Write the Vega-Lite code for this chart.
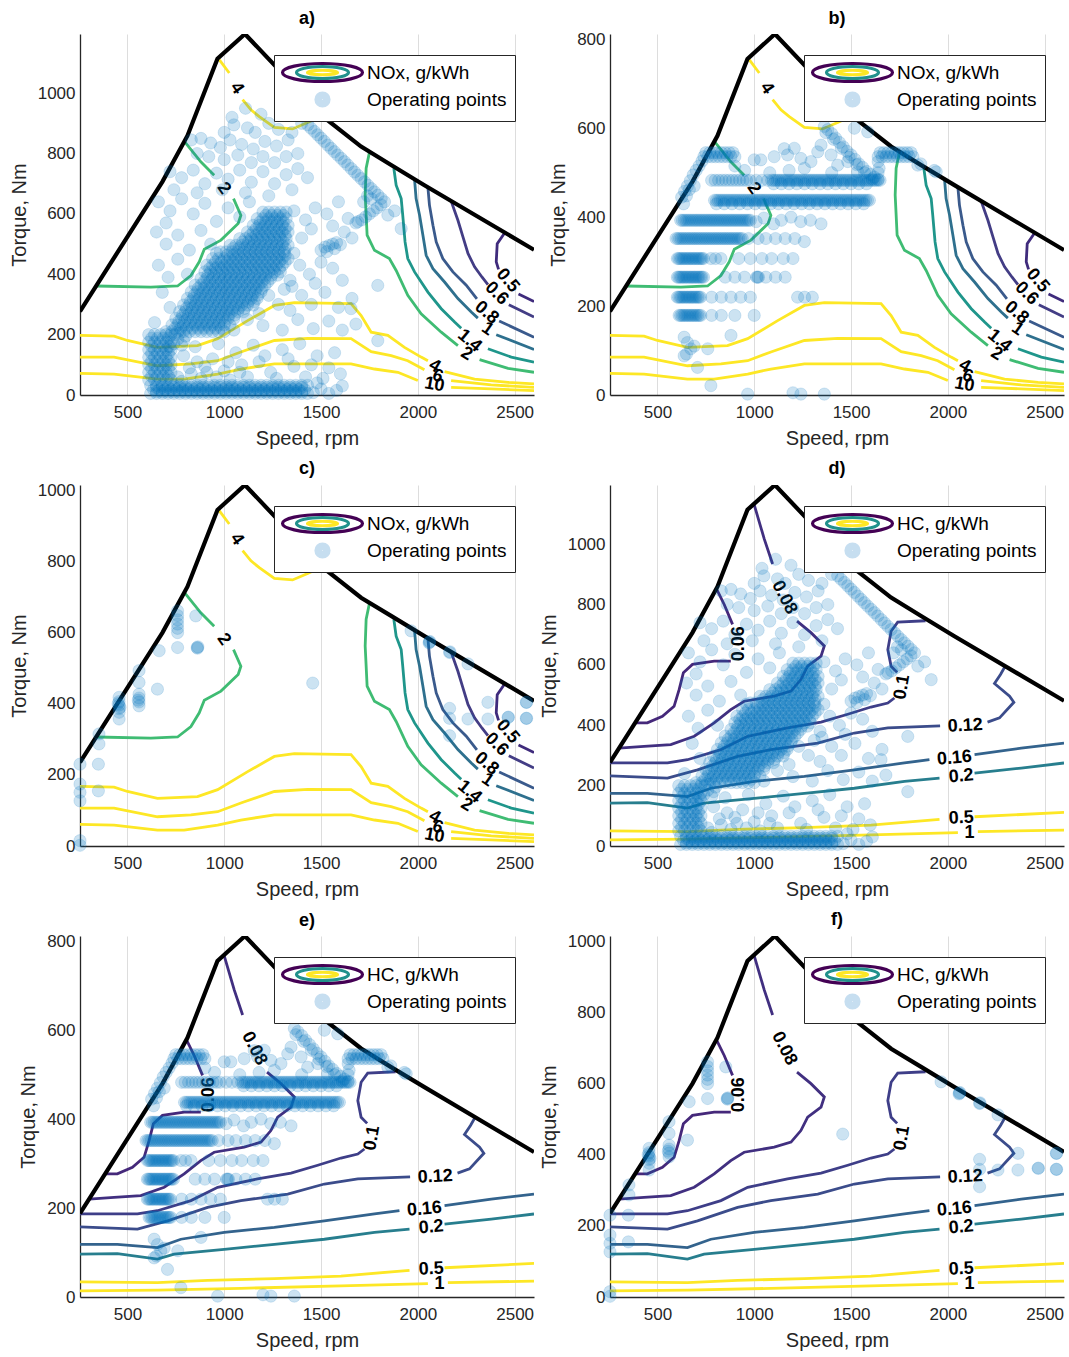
{
"$schema":"https://vega.github.io/schema/vega-lite/v6.json",
"background":"white",
"padding":{"left":9,"top":10,"right":5,"bottom":5},
"config":{"font":"Liberation Sans","view":{"stroke":null},
"axis":{"labelFontSize":17,"titleFontSize":20,"titleFontWeight":"normal","labelColor":"#262626","titleColor":"#262626","domainColor":"#262626","domainWidth":1.3,"gridColor":"#dddddd","gridWidth":1,"ticks":false,"tickSize":0,"grid":true,"titlePadding":8,"format":"d"},
"axisX":{"labelPadding":9,"titlePadding":8},"axisY":{"labelPadding":5},
"legend":{"orient":"none","legendX":194,"legendY":21,"padding":8,"labelFontSize":19,"labelColor":"black","symbolSize":100,"labelFont":"Liberation Sans","symbolOffset":31,"symbolStrokeWidth":3.2},
"title":{"fontSize":18,"fontWeight":"bold","offset":7,"color":"black"}},
"datasets":{
"legN":[{"item":"NOx, g/kWh"},{"item":"Operating points"}],
"legH":[{"item":"HC, g/kWh"},{"item":"Operating points"}],
"bndA":[{"s":255,"t":277},{"s":681,"t":707},{"s":810,"t":859},{"s":965,"t":1114},{"s":1107,"t":1196},{"s":1517,"t":919},{"s":1707,"t":823},{"s":1862,"t":762},{"s":2034,"t":695},{"s":2600,"t":481}],
"bndB":[{"s":255,"t":188},{"s":681,"t":480},{"s":810,"t":583},{"s":965,"t":756},{"s":1107,"t":812},{"s":1517,"t":624},{"s":1707,"t":559},{"s":1862,"t":517},{"s":2034,"t":472},{"s":2600,"t":326}],
"bndC":[{"s":255,"t":235},{"s":681,"t":600},{"s":810,"t":729},{"s":965,"t":945},{"s":1107,"t":1015},{"s":1517,"t":780},{"s":1707,"t":698},{"s":1862,"t":647},{"s":2034,"t":590},{"s":2600,"t":408}],
"nox":[
{"k":"4","g":"4t1","s":974,"l":0.929},{"k":"4","g":"4t1","s":1026,"l":0.892},
{"k":"4","g":"4t2","s":1095,"l":0.818},{"k":"4","g":"4t2","s":1138,"l":0.79},{"k":"4","g":"4t2","s":1181,"l":0.771},{"k":"4","g":"4t2","s":1259,"l":0.741},{"k":"4","g":"4t2","s":1353,"l":0.737},{"k":"4","g":"4t2","s":1431,"l":0.755},{"k":"4","g":"4t2","s":1509,"l":0.774},
{"k":"2","g":"2u1","s":798,"l":0.7},{"k":"2","g":"2u1","s":879,"l":0.646},{"k":"2","g":"2u1","s":948,"l":0.609},
{"k":"2","g":"2u2","s":1048,"l":0.544},{"k":"2","g":"2u2","s":1086,"l":0.498},{"k":"2","g":"2u2","s":1072,"l":0.475},{"k":"2","g":"2u2","s":983,"l":0.429},{"k":"2","g":"2u2","s":897,"l":0.404},{"k":"2","g":"2u2","s":871,"l":0.369},{"k":"2","g":"2u2","s":828,"l":0.331},{"k":"2","g":"2u2","s":759,"l":0.302},{"k":"2","g":"2u2","s":621,"l":0.299},{"k":"2","g":"2u2","s":340,"l":0.302},
{"k":"2","g":"2r1","s":1750,"l":0.672},{"k":"2","g":"2r1","s":1733,"l":0.628},{"k":"2","g":"2r1","s":1728,"l":0.554},{"k":"2","g":"2r1","s":1738,"l":0.443},{"k":"2","g":"2r1","s":1776,"l":0.401},{"k":"2","g":"2r1","s":1853,"l":0.378},{"k":"2","g":"2r1","s":1888,"l":0.345},{"k":"2","g":"2r1","s":1948,"l":0.276},{"k":"2","g":"2r1","s":2017,"l":0.225},{"k":"2","g":"2r1","s":2121,"l":0.174},{"k":"2","g":"2r1","s":2207,"l":0.137},
{"k":"2","g":"2r2","s":2319,"l":0.098},{"k":"2","g":"2r2","s":2466,"l":0.074},{"k":"2","g":"2r2","s":2600,"l":0.063},
{"k":"1.4","g":"14a","s":1876,"l":0.628},{"k":"1.4","g":"14a","s":1888,"l":0.581},{"k":"1.4","g":"14a","s":1914,"l":0.544},{"k":"1.4","g":"14a","s":1922,"l":0.498},{"k":"1.4","g":"14a","s":1934,"l":0.424},{"k":"1.4","g":"14a","s":1948,"l":0.378},{"k":"1.4","g":"14a","s":1983,"l":0.341},{"k":"1.4","g":"14a","s":2052,"l":0.285},{"k":"1.4","g":"14a","s":2121,"l":0.239},{"k":"1.4","g":"14a","s":2190,"l":0.202},{"k":"1.4","g":"14a","s":2224,"l":0.185},
{"k":"1.4","g":"14b","s":2362,"l":0.128},{"k":"1.4","g":"14b","s":2483,"l":0.105},{"k":"1.4","g":"14b","s":2600,"l":0.091},
{"k":"1","g":"1a","s":1983,"l":0.597},{"k":"1","g":"1a","s":1991,"l":0.544},{"k":"1","g":"1a","s":2009,"l":0.498},{"k":"1","g":"1a","s":2026,"l":0.443},{"k":"1","g":"1a","s":2043,"l":0.387},{"k":"1","g":"1a","s":2078,"l":0.35},{"k":"1","g":"1a","s":2138,"l":0.313},{"k":"1","g":"1a","s":2207,"l":0.267},{"k":"1","g":"1a","s":2276,"l":0.23},{"k":"1","g":"1a","s":2310,"l":0.213},
{"k":"1","g":"1b","s":2405,"l":0.167},{"k":"1","g":"1b","s":2600,"l":0.126},
{"k":"0.8","g":"08a","s":2052,"l":0.575},{"k":"0.8","g":"08a","s":2060,"l":0.526},{"k":"0.8","g":"08a","s":2078,"l":0.47},{"k":"0.8","g":"08a","s":2095,"l":0.424},{"k":"0.8","g":"08a","s":2129,"l":0.378},{"k":"0.8","g":"08a","s":2181,"l":0.341},{"k":"0.8","g":"08a","s":2250,"l":0.304},{"k":"0.8","g":"08a","s":2305,"l":0.266},
{"k":"0.8","g":"08b","s":2420,"l":0.205},{"k":"0.8","g":"08b","s":2600,"l":0.16},
{"k":"0.6","g":"06a","s":2172,"l":0.537},{"k":"0.6","g":"06a","s":2207,"l":0.484},{"k":"0.6","g":"06a","s":2233,"l":0.438},{"k":"0.6","g":"06a","s":2259,"l":0.392},{"k":"0.6","g":"06a","s":2293,"l":0.355},{"k":"0.6","g":"06a","s":2331,"l":0.327},{"k":"0.6","g":"06a","s":2362,"l":0.306},
{"k":"0.6","g":"06b","s":2470,"l":0.25},{"k":"0.6","g":"06b","s":2600,"l":0.216},
{"k":"0.5","g":"05a","s":2450,"l":0.45},{"k":"0.5","g":"05a","s":2410,"l":0.419},{"k":"0.5","g":"05a","s":2405,"l":0.369},{"k":"0.5","g":"05a","s":2417,"l":0.348},
{"k":"0.5","g":"05b","s":2520,"l":0.28},{"k":"0.5","g":"05b","s":2600,"l":0.259},
{"k":"4","g":"4b1","s":255,"l":0.165},{"k":"4","g":"4b1","s":431,"l":0.163},{"k":"4","g":"4b1","s":500,"l":0.151},{"k":"4","g":"4b1","s":655,"l":0.132},{"k":"4","g":"4b1","s":862,"l":0.137},{"k":"4","g":"4b1","s":966,"l":0.156},{"k":"4","g":"4b1","s":1121,"l":0.206},{"k":"4","g":"4b1","s":1259,"l":0.248},{"k":"4","g":"4b1","s":1362,"l":0.256},{"k":"4","g":"4b1","s":1655,"l":0.253},{"k":"4","g":"4b1","s":1707,"l":0.22},{"k":"4","g":"4b1","s":1759,"l":0.174},{"k":"4","g":"4b1","s":1845,"l":0.165},{"k":"4","g":"4b1","s":1931,"l":0.132},{"k":"4","g":"4b1","s":2017,"l":0.105},{"k":"4","g":"4b1","s":2052,"l":0.095},
{"k":"4","g":"4b2","s":2138,"l":0.065},{"k":"4","g":"4b2","s":2293,"l":0.044},{"k":"4","g":"4b2","s":2466,"l":0.035},{"k":"4","g":"4b2","s":2600,"l":0.031},
{"k":"6","g":"6a","s":255,"l":0.105},{"k":"6","g":"6a","s":431,"l":0.105},{"k":"6","g":"6a","s":655,"l":0.081},{"k":"6","g":"6a","s":828,"l":0.086},{"k":"6","g":"6a","s":966,"l":0.095},{"k":"6","g":"6a","s":1086,"l":0.119},{"k":"6","g":"6a","s":1259,"l":0.151},{"k":"6","g":"6a","s":1431,"l":0.157},{"k":"6","g":"6a","s":1655,"l":0.156},{"k":"6","g":"6a","s":1759,"l":0.12},{"k":"6","g":"6a","s":1862,"l":0.109},{"k":"6","g":"6a","s":1948,"l":0.095},{"k":"6","g":"6a","s":2034,"l":0.07},
{"k":"6","g":"6b","s":2172,"l":0.04},{"k":"6","g":"6b","s":2379,"l":0.028},{"k":"6","g":"6b","s":2600,"l":0.021},
{"k":"10","g":"10a","s":255,"l":0.06},{"k":"10","g":"10a","s":431,"l":0.058},{"k":"10","g":"10a","s":655,"l":0.044},{"k":"10","g":"10a","s":793,"l":0.044},{"k":"10","g":"10a","s":966,"l":0.058},{"k":"10","g":"10a","s":1086,"l":0.072},{"k":"10","g":"10a","s":1259,"l":0.086},{"k":"10","g":"10a","s":1655,"l":0.086},{"k":"10","g":"10a","s":1776,"l":0.072},{"k":"10","g":"10a","s":1897,"l":0.063},{"k":"10","g":"10a","s":2000,"l":0.04},
{"k":"10","g":"10b","s":2172,"l":0.021},{"k":"10","g":"10b","s":2379,"l":0.017},{"k":"10","g":"10b","s":2600,"l":0.012}
],
"noxLab":[{"s":1064,"l":0.85,"txt":"4","rot":55},{"s":997,"l":0.572,"txt":"2","rot":55},{"s":2464,"l":0.317,"txt":"0.5","rot":50},{"s":2407,"l":0.281,"txt":"0.6","rot":45},{"s":2355,"l":0.228,"txt":"0.8","rot":40},{"s":2360,"l":0.183,"txt":"1","rot":35},{"s":2267,"l":0.15,"txt":"1.4","rot":40},{"s":2252,"l":0.114,"txt":"2","rot":30},{"s":2086,"l":0.08,"txt":"4","rot":30},{"s":2103,"l":0.052,"txt":"6","rot":20},{"s":2086,"l":0.028,"txt":"10","rot":10}],
"hc":[
{"k":"0.06","g":"a1","s":805,"l":0.712},{"k":"0.06","g":"a1","s":845,"l":0.669},{"k":"0.06","g":"a1","s":888,"l":0.614},
{"k":"0.06","g":"a2","s":879,"l":0.512},{"k":"0.06","g":"a2","s":793,"l":0.512},{"k":"0.06","g":"a2","s":681,"l":0.503},{"k":"0.06","g":"a2","s":634,"l":0.48},{"k":"0.06","g":"a2","s":612,"l":0.433},{"k":"0.06","g":"a2","s":586,"l":0.387},{"k":"0.06","g":"a2","s":526,"l":0.359},{"k":"0.06","g":"a2","s":448,"l":0.341},{"k":"0.06","g":"a2","s":385,"l":0.341},
{"k":"0.08","g":"b1","s":1000,"l":0.945},{"k":"0.08","g":"b1","s":1052,"l":0.85},{"k":"0.08","g":"b1","s":1095,"l":0.781},
{"k":"0.08","g":"b2","s":1221,"l":0.623},{"k":"0.08","g":"b2","s":1293,"l":0.591},{"k":"0.08","g":"b2","s":1362,"l":0.554},{"k":"0.08","g":"b2","s":1345,"l":0.526},{"k":"0.08","g":"b2","s":1276,"l":0.498},{"k":"0.08","g":"b2","s":1241,"l":0.461},{"k":"0.08","g":"b2","s":1190,"l":0.429},{"k":"0.08","g":"b2","s":1103,"l":0.415},{"k":"0.08","g":"b2","s":948,"l":0.401},{"k":"0.08","g":"b2","s":879,"l":0.378},{"k":"0.08","g":"b2","s":793,"l":0.341},{"k":"0.08","g":"b2","s":690,"l":0.304},{"k":"0.08","g":"b2","s":569,"l":0.281},{"k":"0.08","g":"b2","s":431,"l":0.276},{"k":"0.08","g":"b2","s":302,"l":0.271},
{"k":"0.1","g":"c1","s":1885,"l":0.624},{"k":"0.1","g":"c1","s":1741,"l":0.62},{"k":"0.1","g":"c1","s":1707,"l":0.595},{"k":"0.1","g":"c1","s":1690,"l":0.544},{"k":"0.1","g":"c1","s":1707,"l":0.498},{"k":"0.1","g":"c1","s":1738,"l":0.481},
{"k":"0.1","g":"c2","s":1724,"l":0.41},{"k":"0.1","g":"c2","s":1690,"l":0.396},{"k":"0.1","g":"c2","s":1603,"l":0.385},{"k":"0.1","g":"c2","s":1483,"l":0.365},{"k":"0.1","g":"c2","s":1345,"l":0.343},{"k":"0.1","g":"c2","s":1172,"l":0.327},{"k":"0.1","g":"c2","s":966,"l":0.304},{"k":"0.1","g":"c2","s":828,"l":0.267},{"k":"0.1","g":"c2","s":655,"l":0.239},{"k":"0.1","g":"c2","s":552,"l":0.23},{"k":"0.1","g":"c2","s":255,"l":0.23},
{"k":"0.12","g":"d1","s":255,"l":0.194},{"k":"0.12","g":"d1","s":552,"l":0.188},{"k":"0.12","g":"d1","s":707,"l":0.211},{"k":"0.12","g":"d1","s":914,"l":0.248},{"k":"0.12","g":"d1","s":1086,"l":0.267},{"k":"0.12","g":"d1","s":1328,"l":0.285},{"k":"0.12","g":"d1","s":1517,"l":0.313},{"k":"0.12","g":"d1","s":1690,"l":0.327},{"k":"0.12","g":"d1","s":1960,"l":0.333},
{"k":"0.12","g":"d2","s":2205,"l":0.343},{"k":"0.12","g":"d2","s":2267,"l":0.355},{"k":"0.12","g":"d2","s":2341,"l":0.398},{"k":"0.12","g":"d2","s":2319,"l":0.415},{"k":"0.12","g":"d2","s":2241,"l":0.45},{"k":"0.12","g":"d2","s":2272,"l":0.475},{"k":"0.12","g":"d2","s":2295,"l":0.497},
{"k":"0.16","g":"e1","s":255,"l":0.146},{"k":"0.16","g":"e1","s":448,"l":0.146},{"k":"0.16","g":"e1","s":655,"l":0.137},{"k":"0.16","g":"e1","s":776,"l":0.16},{"k":"0.16","g":"e1","s":1000,"l":0.179},{"k":"0.16","g":"e1","s":1259,"l":0.193},{"k":"0.16","g":"e1","s":1517,"l":0.211},{"k":"0.16","g":"e1","s":1776,"l":0.23},{"k":"0.16","g":"e1","s":1905,"l":0.239},
{"k":"0.16","g":"e2","s":2138,"l":0.253},{"k":"0.16","g":"e2","s":2379,"l":0.271},{"k":"0.16","g":"e2","s":2600,"l":0.285},
{"k":"0.2","g":"f1","s":255,"l":0.119},{"k":"0.2","g":"f1","s":448,"l":0.12},{"k":"0.2","g":"f1","s":655,"l":0.105},{"k":"0.2","g":"f1","s":741,"l":0.119},{"k":"0.2","g":"f1","s":1000,"l":0.132},{"k":"0.2","g":"f1","s":1259,"l":0.146},{"k":"0.2","g":"f1","s":1517,"l":0.16},{"k":"0.2","g":"f1","s":1776,"l":0.179},{"k":"0.2","g":"f1","s":1957,"l":0.188},
{"k":"0.2","g":"f2","s":2138,"l":0.202},{"k":"0.2","g":"f2","s":2379,"l":0.216},{"k":"0.2","g":"f2","s":2600,"l":0.23},
{"k":"0.5","g":"g1","s":255,"l":0.042},{"k":"0.5","g":"g1","s":655,"l":0.04},{"k":"0.5","g":"g1","s":914,"l":0.046},{"k":"0.5","g":"g1","s":1259,"l":0.051},{"k":"0.5","g":"g1","s":1603,"l":0.058},{"k":"0.5","g":"g1","s":1957,"l":0.074},
{"k":"0.5","g":"g2","s":2138,"l":0.081},{"k":"0.5","g":"g2","s":2600,"l":0.093},
{"k":"1","g":"h1","s":255,"l":0.017},{"k":"1","g":"h1","s":655,"l":0.019},{"k":"1","g":"h1","s":1086,"l":0.024},{"k":"1","g":"h1","s":1603,"l":0.031},{"k":"1","g":"h1","s":2052,"l":0.037},
{"k":"1","g":"h2","s":2155,"l":0.04},{"k":"1","g":"h2","s":2600,"l":0.044}
],
"hcLab":[{"s":922,"l":0.56,"txt":"0.06","rot":270},{"s":1155,"l":0.688,"txt":"0.08","rot":63},{"s":1764,"l":0.44,"txt":"0.1","rot":280},{"s":2090,"l":0.333,"txt":"0.12","rot":357},{"s":2034,"l":0.243,"txt":"0.16","rot":355},{"s":2069,"l":0.193,"txt":"0.2","rot":355},{"s":2069,"l":0.077,"txt":"0.5","rot":357},{"s":2112,"l":0.037,"txt":"1","rot":0}],
"ptsA":[
{"s":620,"t":5},{"s":650,"t":5},{"s":680,"t":5},{"s":710,"t":5},{"s":740,"t":5},{"s":770,"t":5},{"s":800,"t":5},{"s":830,"t":5},{"s":860,"t":5},{"s":890,"t":5},{"s":920,"t":5},{"s":950,"t":5},{"s":980,"t":5},{"s":1010,"t":5},{"s":1040,"t":5},{"s":1070,"t":5},{"s":1100,"t":5},{"s":1130,"t":5},{"s":1160,"t":5},{"s":1190,"t":5},{"s":1220,"t":5},{"s":1250,"t":5},{"s":1280,"t":5},{"s":1310,"t":5},{"s":1340,"t":5},{"s":1370,"t":5},{"s":1400,"t":5},{"s":1430,"t":5},
{"s":650,"t":11},{"s":680,"t":11},{"s":710,"t":11},{"s":740,"t":11},{"s":770,"t":11},{"s":800,"t":11},{"s":830,"t":11},{"s":860,"t":11},{"s":890,"t":11},{"s":920,"t":11},{"s":950,"t":11},{"s":980,"t":11},{"s":1010,"t":11},{"s":1040,"t":11},{"s":1070,"t":11},{"s":1100,"t":11},{"s":1130,"t":11},{"s":1160,"t":11},{"s":1190,"t":11},{"s":1220,"t":11},{"s":1250,"t":11},{"s":1280,"t":11},{"s":1310,"t":11},{"s":1340,"t":11},{"s":1370,"t":11},{"s":1400,"t":11},
{"s":635,"t":18},{"s":665,"t":18},{"s":695,"t":18},{"s":725,"t":18},{"s":755,"t":18},{"s":785,"t":18},{"s":815,"t":18},{"s":845,"t":18},{"s":875,"t":18},{"s":905,"t":18},{"s":935,"t":18},{"s":965,"t":18},{"s":995,"t":18},{"s":1025,"t":18},{"s":1055,"t":18},{"s":1085,"t":18},{"s":1115,"t":18},{"s":1145,"t":18},{"s":1175,"t":18},{"s":1205,"t":18},{"s":1235,"t":18},{"s":1265,"t":18},{"s":1295,"t":18},{"s":1325,"t":18},{"s":1355,"t":18},{"s":1385,"t":18},{"s":1415,"t":18},
{"s":650,"t":25},{"s":680,"t":25},{"s":710,"t":25},{"s":740,"t":25},{"s":770,"t":25},{"s":800,"t":25},{"s":830,"t":25},{"s":860,"t":25},{"s":890,"t":25},{"s":920,"t":25},{"s":950,"t":25},{"s":980,"t":25},{"s":1010,"t":25},{"s":1040,"t":25},{"s":1070,"t":25},{"s":1100,"t":25},{"s":1130,"t":25},{"s":1160,"t":25},{"s":1190,"t":25},{"s":1220,"t":25},{"s":1250,"t":25},{"s":1280,"t":25},{"s":1310,"t":25},{"s":1340,"t":25},{"s":1370,"t":25},{"s":1400,"t":25},
{"s":620,"t":32},{"s":650,"t":32},{"s":680,"t":32},{"s":710,"t":32},{"s":740,"t":32},{"s":770,"t":32},{"s":800,"t":32},{"s":830,"t":32},{"s":860,"t":32},{"s":890,"t":32},{"s":920,"t":32},{"s":950,"t":32},{"s":980,"t":32},{"s":1010,"t":32},{"s":1040,"t":32},{"s":1070,"t":32},{"s":1100,"t":32},{"s":1130,"t":32},{"s":1160,"t":32},{"s":1190,"t":32},{"s":1220,"t":32},{"s":1250,"t":32},{"s":1280,"t":32},{"s":1310,"t":32},{"s":1340,"t":32},{"s":1370,"t":32},{"s":1400,"t":32},{"s":1430,"t":32},
{"s":1460,"t":8},{"s":1500,"t":20},{"s":1540,"t":5},{"s":1580,"t":15},{"s":1610,"t":30},{"s":1480,"t":40},
{"s":610,"t":50},{"s":640,"t":50},{"s":670,"t":50},{"s":700,"t":50},{"s":725,"t":50},
{"s":610,"t":75},{"s":640,"t":75},{"s":670,"t":75},{"s":700,"t":75},{"s":725,"t":75},
{"s":610,"t":100},{"s":640,"t":100},{"s":670,"t":100},{"s":700,"t":100},{"s":725,"t":100},
{"s":610,"t":125},{"s":640,"t":125},{"s":670,"t":125},{"s":700,"t":125},{"s":725,"t":125},
{"s":610,"t":150},{"s":640,"t":150},{"s":670,"t":150},{"s":700,"t":150},{"s":725,"t":150},
{"s":610,"t":175},{"s":640,"t":175},{"s":670,"t":175},{"s":700,"t":175},{"s":725,"t":175},
{"s":610,"t":200},{"s":640,"t":200},{"s":670,"t":200},{"s":700,"t":200},{"s":725,"t":200},
{"s":625,"t":62},{"s":655,"t":62},{"s":685,"t":62},{"s":712,"t":62},
{"s":625,"t":88},{"s":655,"t":88},{"s":685,"t":88},{"s":712,"t":88},
{"s":625,"t":112},{"s":655,"t":112},{"s":685,"t":112},{"s":712,"t":112},
{"s":625,"t":138},{"s":655,"t":138},{"s":685,"t":138},{"s":712,"t":138},
{"s":625,"t":162},{"s":655,"t":162},{"s":685,"t":162},{"s":712,"t":162},
{"s":625,"t":188},{"s":655,"t":188},{"s":685,"t":188},{"s":712,"t":188},
{"s":740,"t":170},{"s":760,"t":185},{"s":780,"t":165},{"s":800,"t":195},{"s":745,"t":200},{"s":770,"t":205},{"s":720,"t":160},{"s":790,"t":180},
{"s":760,"t":60},{"s":820,"t":90},{"s":880,"t":55},{"s":940,"t":120},{"s":1000,"t":80},{"s":1060,"t":140},{"s":1120,"t":60},{"s":1180,"t":110},{"s":1240,"t":75},{"s":1300,"t":150},{"s":1360,"t":95},{"s":1420,"t":60},{"s":1480,"t":130},{"s":1540,"t":90},{"s":1600,"t":70},{"s":790,"t":130},{"s":850,"t":160},{"s":910,"t":75},{"s":970,"t":170},{"s":1030,"t":50},{"s":1090,"t":100},{"s":1150,"t":165},{"s":1210,"t":130},{"s":1270,"t":55},{"s":1330,"t":120},{"s":1390,"t":170},{"s":1450,"t":100},{"s":1510,"t":55},{"s":1570,"t":140},{"s":860,"t":110},{"s":780,"t":45},{"s":830,"t":70},{"s":900,"t":95},{"s":960,"t":60},{"s":1020,"t":110},{"s":1080,"t":75},
{"s":700,"t":210},{"s":730,"t":210},{"s":760,"t":210},{"s":790,"t":210},{"s":820,"t":210},{"s":850,"t":210},{"s":880,"t":210},{"s":910,"t":210},{"s":940,"t":210},{"s":970,"t":210},{"s":1000,"t":210},
{"s":730,"t":232},{"s":760,"t":232},{"s":790,"t":232},{"s":820,"t":232},{"s":850,"t":232},{"s":880,"t":232},{"s":910,"t":232},{"s":940,"t":232},{"s":970,"t":232},{"s":1000,"t":232},{"s":1030,"t":232},
{"s":750,"t":254},{"s":780,"t":254},{"s":810,"t":254},{"s":840,"t":254},{"s":870,"t":254},{"s":900,"t":254},{"s":930,"t":254},{"s":960,"t":254},{"s":990,"t":254},{"s":1020,"t":254},{"s":1050,"t":254},
{"s":770,"t":276},{"s":800,"t":276},{"s":830,"t":276},{"s":860,"t":276},{"s":890,"t":276},{"s":920,"t":276},{"s":950,"t":276},{"s":980,"t":276},{"s":1010,"t":276},{"s":1040,"t":276},{"s":1070,"t":276},{"s":1100,"t":276},
{"s":790,"t":298},{"s":820,"t":298},{"s":850,"t":298},{"s":880,"t":298},{"s":910,"t":298},{"s":940,"t":298},{"s":970,"t":298},{"s":1000,"t":298},{"s":1030,"t":298},{"s":1060,"t":298},{"s":1090,"t":298},{"s":1120,"t":298},{"s":1150,"t":298},
{"s":810,"t":320},{"s":840,"t":320},{"s":870,"t":320},{"s":900,"t":320},{"s":930,"t":320},{"s":960,"t":320},{"s":990,"t":320},{"s":1020,"t":320},{"s":1050,"t":320},{"s":1080,"t":320},{"s":1110,"t":320},{"s":1140,"t":320},{"s":1170,"t":320},
{"s":830,"t":342},{"s":860,"t":342},{"s":890,"t":342},{"s":920,"t":342},{"s":950,"t":342},{"s":980,"t":342},{"s":1010,"t":342},{"s":1040,"t":342},{"s":1070,"t":342},{"s":1100,"t":342},{"s":1130,"t":342},{"s":1160,"t":342},{"s":1190,"t":342},
{"s":850,"t":364},{"s":880,"t":364},{"s":910,"t":364},{"s":940,"t":364},{"s":970,"t":364},{"s":1000,"t":364},{"s":1030,"t":364},{"s":1060,"t":364},{"s":1090,"t":364},{"s":1120,"t":364},{"s":1150,"t":364},{"s":1180,"t":364},{"s":1210,"t":364},
{"s":880,"t":386},{"s":910,"t":386},{"s":940,"t":386},{"s":970,"t":386},{"s":1000,"t":386},{"s":1030,"t":386},{"s":1060,"t":386},{"s":1090,"t":386},{"s":1120,"t":386},{"s":1150,"t":386},{"s":1180,"t":386},{"s":1210,"t":386},{"s":1240,"t":386},
{"s":900,"t":408},{"s":930,"t":408},{"s":960,"t":408},{"s":990,"t":408},{"s":1020,"t":408},{"s":1050,"t":408},{"s":1080,"t":408},{"s":1110,"t":408},{"s":1140,"t":408},{"s":1170,"t":408},{"s":1200,"t":408},{"s":1230,"t":408},{"s":1260,"t":408},{"s":1290,"t":408},
{"s":910,"t":430},{"s":940,"t":430},{"s":970,"t":430},{"s":1000,"t":430},{"s":1030,"t":430},{"s":1060,"t":430},{"s":1090,"t":430},{"s":1120,"t":430},{"s":1150,"t":430},{"s":1180,"t":430},{"s":1210,"t":430},{"s":1240,"t":430},{"s":1270,"t":430},{"s":1300,"t":430},
{"s":940,"t":452},{"s":970,"t":452},{"s":1000,"t":452},{"s":1030,"t":452},{"s":1060,"t":452},{"s":1090,"t":452},{"s":1120,"t":452},{"s":1150,"t":452},{"s":1180,"t":452},{"s":1210,"t":452},{"s":1240,"t":452},{"s":1270,"t":452},{"s":1300,"t":452},{"s":1330,"t":452},
{"s":980,"t":474},{"s":1010,"t":474},{"s":1040,"t":474},{"s":1070,"t":474},{"s":1100,"t":474},{"s":1130,"t":474},{"s":1160,"t":474},{"s":1190,"t":474},{"s":1220,"t":474},{"s":1250,"t":474},{"s":1280,"t":474},{"s":1310,"t":474},
{"s":1030,"t":496},{"s":1060,"t":496},{"s":1090,"t":496},{"s":1120,"t":496},{"s":1150,"t":496},{"s":1180,"t":496},{"s":1210,"t":496},{"s":1240,"t":496},{"s":1270,"t":496},{"s":1300,"t":496},{"s":1330,"t":496},
{"s":1080,"t":518},{"s":1110,"t":518},{"s":1140,"t":518},{"s":1170,"t":518},{"s":1200,"t":518},{"s":1230,"t":518},{"s":1260,"t":518},{"s":1290,"t":518},{"s":1320,"t":518},
{"s":1120,"t":540},{"s":1150,"t":540},{"s":1180,"t":540},{"s":1210,"t":540},{"s":1240,"t":540},{"s":1270,"t":540},{"s":1300,"t":540},{"s":1330,"t":540},
{"s":1150,"t":562},{"s":1180,"t":562},{"s":1210,"t":562},{"s":1240,"t":562},{"s":1270,"t":562},{"s":1300,"t":562},{"s":1330,"t":562},
{"s":1170,"t":584},{"s":1200,"t":584},{"s":1230,"t":584},{"s":1260,"t":584},{"s":1290,"t":584},{"s":1320,"t":584},
{"s":1200,"t":606},{"s":1230,"t":606},{"s":1260,"t":606},{"s":1290,"t":606},{"s":1320,"t":606},
{"s":745,"t":221},{"s":775,"t":221},{"s":805,"t":221},{"s":835,"t":221},{"s":865,"t":221},{"s":895,"t":221},{"s":925,"t":221},{"s":955,"t":221},{"s":985,"t":221},
{"s":765,"t":243},{"s":795,"t":243},{"s":825,"t":243},{"s":855,"t":243},{"s":885,"t":243},{"s":915,"t":243},{"s":945,"t":243},{"s":975,"t":243},{"s":1005,"t":243},
{"s":785,"t":265},{"s":815,"t":265},{"s":845,"t":265},{"s":875,"t":265},{"s":905,"t":265},{"s":935,"t":265},{"s":965,"t":265},{"s":995,"t":265},{"s":1025,"t":265},{"s":1055,"t":265},
{"s":805,"t":287},{"s":835,"t":287},{"s":865,"t":287},{"s":895,"t":287},{"s":925,"t":287},{"s":955,"t":287},{"s":985,"t":287},{"s":1015,"t":287},{"s":1045,"t":287},{"s":1075,"t":287},{"s":1105,"t":287},
{"s":825,"t":309},{"s":855,"t":309},{"s":885,"t":309},{"s":915,"t":309},{"s":945,"t":309},{"s":975,"t":309},{"s":1005,"t":309},{"s":1035,"t":309},{"s":1065,"t":309},{"s":1095,"t":309},{"s":1125,"t":309},{"s":1155,"t":309},
{"s":845,"t":331},{"s":875,"t":331},{"s":905,"t":331},{"s":935,"t":331},{"s":965,"t":331},{"s":995,"t":331},{"s":1025,"t":331},{"s":1055,"t":331},{"s":1085,"t":331},{"s":1115,"t":331},{"s":1145,"t":331},{"s":1175,"t":331},
{"s":865,"t":353},{"s":895,"t":353},{"s":925,"t":353},{"s":955,"t":353},{"s":985,"t":353},{"s":1015,"t":353},{"s":1045,"t":353},{"s":1075,"t":353},{"s":1105,"t":353},{"s":1135,"t":353},{"s":1165,"t":353},{"s":1195,"t":353},
{"s":895,"t":375},{"s":925,"t":375},{"s":955,"t":375},{"s":985,"t":375},{"s":1015,"t":375},{"s":1045,"t":375},{"s":1075,"t":375},{"s":1105,"t":375},{"s":1135,"t":375},{"s":1165,"t":375},{"s":1195,"t":375},{"s":1225,"t":375},
{"s":915,"t":397},{"s":945,"t":397},{"s":975,"t":397},{"s":1005,"t":397},{"s":1035,"t":397},{"s":1065,"t":397},{"s":1095,"t":397},{"s":1125,"t":397},{"s":1155,"t":397},{"s":1185,"t":397},{"s":1215,"t":397},{"s":1245,"t":397},{"s":1275,"t":397},
{"s":925,"t":419},{"s":955,"t":419},{"s":985,"t":419},{"s":1015,"t":419},{"s":1045,"t":419},{"s":1075,"t":419},{"s":1105,"t":419},{"s":1135,"t":419},{"s":1165,"t":419},{"s":1195,"t":419},{"s":1225,"t":419},{"s":1255,"t":419},{"s":1285,"t":419},
{"s":955,"t":441},{"s":985,"t":441},{"s":1015,"t":441},{"s":1045,"t":441},{"s":1075,"t":441},{"s":1105,"t":441},{"s":1135,"t":441},{"s":1165,"t":441},{"s":1195,"t":441},{"s":1225,"t":441},{"s":1255,"t":441},{"s":1285,"t":441},{"s":1315,"t":441},
{"s":1015,"t":463},{"s":1045,"t":463},{"s":1075,"t":463},{"s":1105,"t":463},{"s":1135,"t":463},{"s":1165,"t":463},{"s":1195,"t":463},{"s":1225,"t":463},{"s":1255,"t":463},{"s":1285,"t":463},{"s":1315,"t":463},
{"s":1045,"t":485},{"s":1075,"t":485},{"s":1105,"t":485},{"s":1135,"t":485},{"s":1165,"t":485},{"s":1195,"t":485},{"s":1225,"t":485},{"s":1255,"t":485},{"s":1285,"t":485},{"s":1315,"t":485},
{"s":1095,"t":507},{"s":1125,"t":507},{"s":1155,"t":507},{"s":1185,"t":507},{"s":1215,"t":507},{"s":1245,"t":507},{"s":1275,"t":507},{"s":1305,"t":507},
{"s":1135,"t":529},{"s":1165,"t":529},{"s":1195,"t":529},{"s":1225,"t":529},{"s":1255,"t":529},{"s":1285,"t":529},{"s":1315,"t":529},
{"s":1165,"t":551},{"s":1195,"t":551},{"s":1225,"t":551},{"s":1255,"t":551},{"s":1285,"t":551},{"s":1315,"t":551},
{"s":1185,"t":573},{"s":1215,"t":573},{"s":1245,"t":573},{"s":1275,"t":573},{"s":1305,"t":573},
{"s":1215,"t":595},{"s":1245,"t":595},{"s":1275,"t":595},{"s":1305,"t":595},
{"s":1431,"t":895},{"s":1448,"t":884},{"s":1466,"t":873},{"s":1483,"t":862},{"s":1500,"t":851},{"s":1517,"t":840},{"s":1535,"t":828},{"s":1552,"t":817},{"s":1569,"t":806},{"s":1586,"t":795},{"s":1604,"t":784},{"s":1621,"t":773},{"s":1638,"t":762},{"s":1656,"t":750},{"s":1673,"t":739},{"s":1690,"t":728},{"s":1707,"t":717},{"s":1725,"t":706},{"s":1742,"t":695},{"s":1759,"t":684},{"s":1776,"t":673},{"s":1794,"t":662},{"s":1811,"t":651},{"s":1828,"t":640},
{"s":1810,"t":630},{"s":1790,"t":620},{"s":1770,"t":610},{"s":1750,"t":600},{"s":1730,"t":590},{"s":1710,"t":580},{"s":1690,"t":574},{"s":1680,"t":570},
{"s":1740,"t":660},{"s":1760,"t":650},{"s":1720,"t":640},
{"s":1500,"t":480},{"s":1520,"t":490},{"s":1540,"t":495},{"s":1560,"t":500},{"s":1580,"t":505},{"s":1600,"t":498},{"s":1530,"t":475},{"s":1570,"t":485},
{"s":1040,"t":920},{"s":1110,"t":950},{"s":1190,"t":930},{"s":1050,"t":895},{"s":1120,"t":885},{"s":1000,"t":870},{"s":1160,"t":870},{"s":1230,"t":900},{"s":1280,"t":880},{"s":1350,"t":870},{"s":1400,"t":900},
{"s":830,"t":845},{"s":880,"t":850},{"s":930,"t":835},{"s":980,"t":820},{"s":1030,"t":845},{"s":1090,"t":830},{"s":1150,"t":815},{"s":1210,"t":840},{"s":1270,"t":825},{"s":1330,"t":845},{"s":860,"t":800},{"s":920,"t":790},{"s":1000,"t":780},{"s":1070,"t":795},{"s":1140,"t":770},{"s":1200,"t":790},{"s":1260,"t":770},{"s":1320,"t":790},{"s":1380,"t":800},
{"s":720,"t":740},{"s":780,"t":720},{"s":840,"t":745},{"s":900,"t":700},{"s":960,"t":735},{"s":1020,"t":715},{"s":1080,"t":745},{"s":1140,"t":705},{"s":1200,"t":740},{"s":1260,"t":700},{"s":1320,"t":730},{"s":1380,"t":750},{"s":1430,"t":720},{"s":740,"t":680},{"s":860,"t":670},{"s":990,"t":680},{"s":1110,"t":670},{"s":1230,"t":660},{"s":1350,"t":680},
{"s":660,"t":640},{"s":720,"t":610},{"s":780,"t":650},{"s":840,"t":600},{"s":900,"t":635},{"s":960,"t":575},{"s":1020,"t":620},{"s":1080,"t":590},{"s":1130,"t":640},{"s":1360,"t":610},{"s":1420,"t":580},{"s":1470,"t":620},{"s":1530,"t":600},{"s":1590,"t":640},{"s":1640,"t":585},{"s":700,"t":570},
{"s":650,"t":540},{"s":700,"t":500},{"s":760,"t":530},{"s":820,"t":480},{"s":880,"t":545},{"s":930,"t":500},{"s":1360,"t":470},{"s":1400,"t":520},{"s":1450,"t":550},{"s":1620,"t":540},{"s":1660,"t":520},{"s":1560,"t":560},{"s":960,"t":470},
{"s":660,"t":430},{"s":710,"t":390},{"s":760,"t":450},{"s":810,"t":400},{"s":1340,"t":380},{"s":1390,"t":430},{"s":1440,"t":400},{"s":1500,"t":440},{"s":1560,"t":420},{"s":1610,"t":380},{"s":1350,"t":360},{"s":1470,"t":370},
{"s":680,"t":340},{"s":720,"t":290},{"s":1180,"t":270},{"s":1230,"t":330},{"s":1280,"t":300},{"s":1340,"t":280},{"s":1400,"t":330},{"s":1450,"t":300},{"s":1520,"t":340},{"s":1590,"t":290},{"s":1660,"t":320},{"s":1310,"t":350},
{"s":640,"t":240},{"s":1050,"t":215},{"s":1120,"t":250},{"s":1200,"t":230},{"s":1300,"t":215},{"s":1380,"t":250},{"s":1460,"t":220},{"s":1540,"t":245},{"s":1610,"t":215},{"s":1680,"t":235},
{"s":1793,"t":363},{"s":1914,"t":551},{"s":1793,"t":180},{"s":1845,"t":596},{"s":1655,"t":286},{"s":1880,"t":610}
],
"ptsB":[
{"s":740,"t":536},{"s":760,"t":536},{"s":780,"t":536},{"s":800,"t":536},{"s":820,"t":536},{"s":840,"t":536},{"s":860,"t":536},{"s":880,"t":536},{"s":900,"t":536},
{"s":750,"t":545},{"s":770,"t":545},{"s":790,"t":545},{"s":810,"t":545},{"s":830,"t":545},{"s":850,"t":545},{"s":870,"t":545},{"s":890,"t":545},
{"s":625,"t":445},{"s":640,"t":458},{"s":655,"t":470},{"s":670,"t":482},{"s":685,"t":495},{"s":700,"t":505},{"s":715,"t":515},{"s":730,"t":526},{"s":635,"t":430},{"s":650,"t":448},{"s":665,"t":462},{"s":690,"t":470},
{"s":1640,"t":536},{"s":1660,"t":536},{"s":1680,"t":536},{"s":1700,"t":536},{"s":1720,"t":536},{"s":1740,"t":536},{"s":1760,"t":536},{"s":1780,"t":536},{"s":1800,"t":536},{"s":1820,"t":536},
{"s":1650,"t":545},{"s":1670,"t":545},{"s":1690,"t":545},{"s":1710,"t":545},{"s":1730,"t":545},{"s":1750,"t":545},{"s":1770,"t":545},{"s":1790,"t":545},{"s":1810,"t":545},
{"s":1860,"t":520},{"s":1930,"t":505},
{"s":780,"t":483},{"s":798,"t":483},{"s":816,"t":483},{"s":834,"t":483},{"s":852,"t":483},{"s":870,"t":483},{"s":888,"t":483},{"s":906,"t":483},{"s":924,"t":483},{"s":942,"t":483},{"s":960,"t":483},{"s":978,"t":483},
{"s":1010,"t":483},{"s":1040,"t":483},{"s":1070,"t":483},
{"s":1090,"t":483},{"s":1110,"t":483},{"s":1130,"t":483},{"s":1150,"t":483},{"s":1170,"t":483},{"s":1190,"t":483},{"s":1210,"t":483},{"s":1230,"t":483},{"s":1250,"t":483},{"s":1270,"t":483},{"s":1290,"t":483},{"s":1310,"t":483},{"s":1330,"t":483},{"s":1350,"t":483},{"s":1370,"t":483},{"s":1390,"t":483},{"s":1410,"t":483},{"s":1430,"t":483},{"s":1450,"t":483},{"s":1470,"t":483},{"s":1490,"t":483},{"s":1510,"t":483},{"s":1530,"t":483},{"s":1550,"t":483},{"s":1570,"t":483},{"s":1590,"t":483},{"s":1610,"t":483},{"s":1630,"t":483},{"s":1650,"t":483},
{"s":1100,"t":483},{"s":1120,"t":483},{"s":1140,"t":483},{"s":1160,"t":483},{"s":1180,"t":483},{"s":1200,"t":483},{"s":1220,"t":483},{"s":1240,"t":483},{"s":1260,"t":483},{"s":1280,"t":483},{"s":1300,"t":483},{"s":1320,"t":483},{"s":1340,"t":483},{"s":1360,"t":483},{"s":1380,"t":483},{"s":1400,"t":483},{"s":1420,"t":483},{"s":1440,"t":483},{"s":1460,"t":483},{"s":1480,"t":483},{"s":1500,"t":483},{"s":1520,"t":483},{"s":1540,"t":483},{"s":1560,"t":483},{"s":1580,"t":483},{"s":1600,"t":483},{"s":1620,"t":483},{"s":1640,"t":483},
{"s":1100,"t":475},{"s":1140,"t":475},{"s":1180,"t":475},{"s":1220,"t":475},{"s":1260,"t":475},{"s":1300,"t":475},{"s":1340,"t":475},{"s":1380,"t":475},{"s":1420,"t":475},{"s":1460,"t":475},{"s":1500,"t":475},{"s":1540,"t":475},{"s":1580,"t":475},
{"s":795,"t":438},{"s":815,"t":438},{"s":835,"t":438},{"s":855,"t":438},{"s":875,"t":438},{"s":895,"t":438},{"s":915,"t":438},{"s":935,"t":438},{"s":955,"t":438},{"s":975,"t":438},{"s":995,"t":438},{"s":1015,"t":438},{"s":1035,"t":438},{"s":1055,"t":438},{"s":1075,"t":438},{"s":1095,"t":438},{"s":1115,"t":438},{"s":1135,"t":438},{"s":1155,"t":438},{"s":1175,"t":438},{"s":1195,"t":438},{"s":1215,"t":438},{"s":1235,"t":438},{"s":1255,"t":438},{"s":1275,"t":438},{"s":1295,"t":438},{"s":1315,"t":438},{"s":1335,"t":438},{"s":1355,"t":438},{"s":1375,"t":438},{"s":1395,"t":438},{"s":1415,"t":438},{"s":1435,"t":438},{"s":1455,"t":438},{"s":1475,"t":438},{"s":1495,"t":438},{"s":1515,"t":438},{"s":1535,"t":438},{"s":1555,"t":438},{"s":1575,"t":438},{"s":1595,"t":438},
{"s":805,"t":438},{"s":825,"t":438},{"s":845,"t":438},{"s":865,"t":438},{"s":885,"t":438},{"s":905,"t":438},{"s":925,"t":438},{"s":945,"t":438},{"s":965,"t":438},{"s":985,"t":438},{"s":1005,"t":438},{"s":1025,"t":438},{"s":1045,"t":438},{"s":1065,"t":438},{"s":1085,"t":438},{"s":1105,"t":438},{"s":1125,"t":438},{"s":1145,"t":438},{"s":1165,"t":438},{"s":1185,"t":438},{"s":1205,"t":438},{"s":1225,"t":438},{"s":1245,"t":438},{"s":1265,"t":438},{"s":1285,"t":438},{"s":1305,"t":438},{"s":1325,"t":438},{"s":1345,"t":438},{"s":1365,"t":438},{"s":1385,"t":438},{"s":1405,"t":438},{"s":1425,"t":438},{"s":1445,"t":438},{"s":1465,"t":438},{"s":1485,"t":438},{"s":1505,"t":438},{"s":1525,"t":438},{"s":1545,"t":438},{"s":1565,"t":438},{"s":1585,"t":438},
{"s":805,"t":430},{"s":845,"t":430},{"s":885,"t":430},{"s":925,"t":430},{"s":965,"t":430},{"s":1005,"t":430},{"s":1045,"t":430},{"s":1085,"t":430},{"s":1125,"t":430},{"s":1165,"t":430},{"s":1205,"t":430},{"s":1245,"t":430},{"s":1285,"t":430},{"s":1325,"t":430},{"s":1365,"t":430},{"s":1405,"t":430},{"s":1445,"t":430},{"s":1485,"t":430},{"s":1525,"t":430},{"s":1565,"t":430},
{"s":620,"t":393},{"s":638,"t":393},{"s":656,"t":393},{"s":674,"t":393},{"s":692,"t":393},{"s":710,"t":393},{"s":728,"t":393},{"s":746,"t":393},{"s":764,"t":393},{"s":782,"t":393},{"s":800,"t":393},{"s":818,"t":393},{"s":836,"t":393},{"s":854,"t":393},{"s":872,"t":393},{"s":890,"t":393},{"s":908,"t":393},{"s":926,"t":393},{"s":944,"t":393},{"s":962,"t":393},{"s":980,"t":393},
{"s":629,"t":393},{"s":647,"t":393},{"s":665,"t":393},{"s":683,"t":393},{"s":701,"t":393},{"s":719,"t":393},{"s":737,"t":393},{"s":755,"t":393},{"s":773,"t":393},{"s":791,"t":393},{"s":809,"t":393},{"s":827,"t":393},{"s":845,"t":393},{"s":863,"t":393},{"s":881,"t":393},{"s":899,"t":393},{"s":917,"t":393},{"s":935,"t":393},{"s":953,"t":393},{"s":971,"t":393},
{"s":1010,"t":390},{"s":1050,"t":398},{"s":1100,"t":385},{"s":1140,"t":393},{"s":1190,"t":400},{"s":1240,"t":390},{"s":1290,"t":393},{"s":1345,"t":385},
{"s":596,"t":352},{"s":614,"t":352},{"s":632,"t":352},{"s":650,"t":352},{"s":668,"t":352},{"s":686,"t":352},{"s":704,"t":352},{"s":722,"t":352},{"s":740,"t":352},{"s":758,"t":352},{"s":776,"t":352},{"s":794,"t":352},{"s":812,"t":352},{"s":830,"t":352},{"s":848,"t":352},{"s":866,"t":352},{"s":884,"t":352},{"s":902,"t":352},{"s":920,"t":352},{"s":938,"t":352},
{"s":605,"t":352},{"s":623,"t":352},{"s":641,"t":352},{"s":659,"t":352},{"s":677,"t":352},{"s":695,"t":352},{"s":713,"t":352},{"s":731,"t":352},{"s":749,"t":352},{"s":767,"t":352},{"s":785,"t":352},{"s":803,"t":352},{"s":821,"t":352},{"s":839,"t":352},{"s":857,"t":352},{"s":875,"t":352},{"s":893,"t":352},{"s":911,"t":352},{"s":929,"t":352},
{"s":970,"t":352},{"s":1020,"t":352},{"s":1060,"t":352},{"s":1110,"t":352},{"s":1160,"t":352},{"s":1210,"t":352},{"s":1259,"t":345},
{"s":603,"t":307},{"s":618,"t":307},{"s":633,"t":307},{"s":648,"t":307},{"s":663,"t":307},{"s":678,"t":307},{"s":693,"t":307},{"s":708,"t":307},{"s":723,"t":307},{"s":738,"t":307},
{"s":610,"t":307},{"s":625,"t":307},{"s":640,"t":307},{"s":655,"t":307},{"s":670,"t":307},{"s":685,"t":307},{"s":700,"t":307},{"s":715,"t":307},{"s":730,"t":307},
{"s":776,"t":307},{"s":800,"t":307},{"s":828,"t":307},{"s":920,"t":307},{"s":980,"t":307},{"s":1040,"t":307},{"s":1090,"t":307},{"s":1150,"t":307},{"s":1200,"t":307},
{"s":603,"t":265},{"s":618,"t":265},{"s":633,"t":265},{"s":648,"t":265},{"s":663,"t":265},{"s":678,"t":265},{"s":693,"t":265},{"s":708,"t":265},{"s":723,"t":265},{"s":738,"t":265},
{"s":610,"t":265},{"s":625,"t":265},{"s":640,"t":265},{"s":655,"t":265},{"s":670,"t":265},{"s":685,"t":265},{"s":700,"t":265},{"s":715,"t":265},{"s":730,"t":265},
{"s":850,"t":265},{"s":900,"t":265},{"s":950,"t":265},{"s":1060,"t":265},{"s":1110,"t":265},{"s":1160,"t":265},{"s":1012,"t":265},{"s":1017,"t":265},{"s":1022,"t":265},
{"s":603,"t":220},{"s":618,"t":220},{"s":633,"t":220},{"s":648,"t":220},{"s":663,"t":220},{"s":678,"t":220},{"s":693,"t":220},{"s":708,"t":220},{"s":723,"t":220},
{"s":610,"t":220},{"s":625,"t":220},{"s":640,"t":220},{"s":655,"t":220},{"s":670,"t":220},{"s":685,"t":220},{"s":700,"t":220},{"s":715,"t":220},
{"s":780,"t":220},{"s":830,"t":220},{"s":880,"t":220},{"s":930,"t":220},{"s":980,"t":220},{"s":1224,"t":220},{"s":1260,"t":220},{"s":1300,"t":220},
{"s":612,"t":179},{"s":628,"t":179},{"s":644,"t":179},{"s":660,"t":179},{"s":676,"t":179},{"s":692,"t":179},{"s":708,"t":179},{"s":724,"t":179},
{"s":620,"t":179},{"s":636,"t":179},{"s":652,"t":179},{"s":668,"t":179},{"s":684,"t":179},{"s":700,"t":179},{"s":716,"t":179},
{"s":780,"t":179},{"s":830,"t":179},{"s":900,"t":179},{"s":1000,"t":179},
{"s":638,"t":130},{"s":655,"t":118},{"s":672,"t":104},{"s":760,"t":104},{"s":880,"t":134},{"s":650,"t":92},{"s":690,"t":110},{"s":638,"t":88},{"s":707,"t":62},{"s":776,"t":21},{"s":966,"t":2},{"s":1241,"t":2},{"s":1362,"t":2},{"s":1200,"t":5},
{"s":1362,"t":604},{"s":1380,"t":597},{"s":1400,"t":588},{"s":1420,"t":578},{"s":1440,"t":568},{"s":1460,"t":558},{"s":1480,"t":548},{"s":1500,"t":540},{"s":1520,"t":530},{"s":1540,"t":520},{"s":1560,"t":512},{"s":1580,"t":503},{"s":1600,"t":496},{"s":1620,"t":490},{"s":1640,"t":485},{"s":1370,"t":590},{"s":1410,"t":575},{"s":1450,"t":555},{"s":1490,"t":535},{"s":1530,"t":518},{"s":1570,"t":500},{"s":1610,"t":486},{"s":1640,"t":525},{"s":1645,"t":510},{"s":1640,"t":500},
{"s":1155,"t":554},{"s":1172,"t":540},{"s":1241,"t":532},{"s":1328,"t":547},{"s":1431,"t":517},{"s":1483,"t":525},{"s":1534,"t":502},{"s":1586,"t":592},{"s":1517,"t":600},{"s":1034,"t":529},{"s":1103,"t":536},{"s":1000,"t":529},{"s":1259,"t":510},{"s":1397,"t":540},{"s":1293,"t":525},{"s":1207,"t":555},{"s":1345,"t":562},{"s":1940,"t":502},{"s":1845,"t":517},{"s":1080,"t":500},{"s":950,"t":505},{"s":1180,"t":505},{"s":900,"t":515},{"s":1400,"t":500}
],
"ptsC":[
{"s":759,"t":600},{"s":759,"t":612},{"s":759,"t":624},{"s":759,"t":636},{"s":759,"t":648},{"s":759,"t":661},
{"s":860,"t":558},{"s":864,"t":560},{"s":862,"t":556},{"s":759,"t":558},{"s":853,"t":647},{"s":664,"t":549},
{"s":457,"t":376},{"s":457,"t":386},{"s":457,"t":396},{"s":457,"t":406},{"s":457,"t":418},{"s":452,"t":400},{"s":462,"t":390},
{"s":560,"t":394},{"s":560,"t":405},{"s":560,"t":416},{"s":560,"t":427},{"s":556,"t":410},
{"s":457,"t":357},{"s":560,"t":493},{"s":560,"t":460},{"s":655,"t":441},
{"s":353,"t":315},{"s":353,"t":287},{"s":350,"t":230},{"s":350,"t":155},
{"s":255,"t":230},{"s":255,"t":174},{"s":255,"t":151},{"s":255,"t":127},{"s":255,"t":15},{"s":255,"t":2},
{"s":2060,"t":573},{"s":2062,"t":575},{"s":2058,"t":571},{"s":2164,"t":544},{"s":2166,"t":546},{"s":1965,"t":605},{"s":2259,"t":512},
{"s":2164,"t":387},{"s":2164,"t":359},{"s":2164,"t":310},{"s":2259,"t":357},{"s":2362,"t":404},{"s":2362,"t":357},{"s":2466,"t":362},{"s":2468,"t":362},{"s":2560,"t":404},{"s":2562,"t":404},{"s":2560,"t":359},{"s":2562,"t":359},
{"s":1457,"t":458}
]
},
"columns":2,
"spacing":{"row":90,"column":76},
"bounds":"flush",
"concat":[
{"title":{"text":"a)","offset":6},"width":454,"height":361,
"layer":[
{"data":{"name":"nox"},"mark":{"type":"line","strokeWidth":2.8,"clip":true},"encoding":{"x":{"field":"s","type":"quantitative","scale":{"domain":[255,2600],"nice":false,"zero":false},"axis":{"values":[500,1000,1500,2000,2500],"title":"Speed, rpm"}},"y":{"field":"l","type":"quantitative","scale":{"domain":[0,1],"nice":false},"axis":null},"color":{"field":"k","type":"nominal","scale":{"domain":["0.5","0.6","0.8","1","1.4","2","4","6","10"],"range":["#3f2b7c","#433d85","#3a5a8c","#2e708e","#1f968b","#3fbc73","#fde725","#fde725","#fde725"]},"legend":null},"detail":{"field":"g"},"order":{"value":null}}},
{"data":{"name":"noxLab"},"mark":{"type":"text","fontWeight":"bold","fontSize":18,"color":"black"},"encoding":{"x":{"field":"s","type":"quantitative"},"y":{"field":"l","type":"quantitative","scale":{"domain":[0,1],"nice":false},"axis":null},"text":{"field":"txt"},"angle":{"field":"rot","type":"quantitative","scale":null}}},
{"data":{"name":"bndA"},"mark":{"type":"line","color":"black","strokeWidth":4.2,"clip":true},"encoding":{"x":{"field":"s","type":"quantitative"},"y":{"field":"t","type":"quantitative","scale":{"domain":[0,1196],"nice":false},"axis":{"values":[0,200,400,600,800,1000],"title":"Torque, Nm"}},"order":{"value":null}}},
{"data":{"name":"ptsA"},"mark":{"type":"circle","size":150,"fill":"#0072BD","fillOpacity":0.2,"stroke":"#0072BD","strokeOpacity":0.15,"strokeWidth":1},"encoding":{"x":{"field":"s","type":"quantitative"},"y":{"field":"t","type":"quantitative","scale":{"domain":[0,1196],"nice":false},"axis":null}}},
{"data":{"name":"legN"},"mark":{"type":"point","opacity":0,"strokeWidth":3.2},"encoding":{"color":{"field":"item","type":"nominal","scale":{"range":["#440154","#c6def0"]},"legend":{"title":null,"rowPadding":-2,"labelOffset":35,"strokeColor":"#262626","fillColor":"white","zindex":1}},"shape":{"field":"item","type":"nominal","scale":{"range":["M-8,0A8,1.8,0,1,0,8,0A8,1.8,0,1,0,-8,0Z","M-1.3,0A1.3,1.3,0,1,0,1.3,0A1.3,1.3,0,1,0,-1.3,0ZM-1,0A1,1,0,1,0,1,0A1,1,0,1,0,-1,0ZM-0.7,0A0.7,0.7,0,1,0,0.7,0A0.7,0.7,0,1,0,-0.7,0ZM-0.4,0A0.4,0.4,0,1,0,0.4,0A0.4,0.4,0,1,0,-0.4,0ZM-0.1,0A0.1,0.1,0,1,0,0.1,0A0.1,0.1,0,1,0,-0.1,0Z"]},"legend":{"title":null,"rowPadding":-2,"labelOffset":35,"strokeColor":"#262626","fillColor":"white","zindex":1}}}},
{"data":{"values":[{"m":"mid"}]},"mark":{"type":"point","opacity":0,"color":"#21918c","strokeWidth":3.2},"encoding":{"shape":{"field":"m","type":"nominal","scale":{"range":["M-5.2,0A5.2,1.2,0,1,0,5.2,0A5.2,1.2,0,1,0,-5.2,0Z"]},"legend":{"title":null,"labelExpr":"''","symbolStrokeColor":"#21918c","zindex":2}}}},
{"data":{"values":[{"n":"in"}]},"mark":{"type":"point","opacity":0,"color":"#fde725","strokeWidth":3.2},"encoding":{"shape":{"field":"n","type":"nominal","scale":{"range":["M-3,0A3,0.45,0,1,0,3,0A3,0.45,0,1,0,-3,0Z"]},"legend":{"title":null,"labelExpr":"''","symbolStrokeColor":"#fde725","zindex":3}}}}
],
"resolve":{"scale":{"y":"independent","color":"independent","shape":"independent"}}},
{"title":{"text":"b)","offset":2},"width":454,"height":361,
"layer":[
{"data":{"name":"nox"},"mark":{"type":"line","strokeWidth":2.8,"clip":true},"encoding":{"x":{"field":"s","type":"quantitative","scale":{"domain":[255,2600],"nice":false,"zero":false},"axis":{"values":[500,1000,1500,2000,2500],"title":"Speed, rpm"}},"y":{"field":"l","type":"quantitative","scale":{"domain":[0,1],"nice":false},"axis":null},"color":{"field":"k","type":"nominal","scale":{"domain":["0.5","0.6","0.8","1","1.4","2","4","6","10"],"range":["#3f2b7c","#433d85","#3a5a8c","#2e708e","#1f968b","#3fbc73","#fde725","#fde725","#fde725"]},"legend":null},"detail":{"field":"g"},"order":{"value":null}}},
{"data":{"name":"noxLab"},"mark":{"type":"text","fontWeight":"bold","fontSize":18,"color":"black"},"encoding":{"x":{"field":"s","type":"quantitative"},"y":{"field":"l","type":"quantitative","scale":{"domain":[0,1],"nice":false},"axis":null},"text":{"field":"txt"},"angle":{"field":"rot","type":"quantitative","scale":null}}},
{"data":{"name":"bndB"},"mark":{"type":"line","color":"black","strokeWidth":4.2,"clip":true},"encoding":{"x":{"field":"s","type":"quantitative"},"y":{"field":"t","type":"quantitative","scale":{"domain":[0,812],"nice":false},"axis":{"values":[0,200,400,600,800],"title":"Torque, Nm"}},"order":{"value":null}}},
{"data":{"name":"ptsB"},"mark":{"type":"circle","size":150,"fill":"#0072BD","fillOpacity":0.2,"stroke":"#0072BD","strokeOpacity":0.15,"strokeWidth":1},"encoding":{"x":{"field":"s","type":"quantitative"},"y":{"field":"t","type":"quantitative","scale":{"domain":[0,812],"nice":false},"axis":null}}},
{"data":{"name":"legN"},"mark":{"type":"point","opacity":0,"strokeWidth":3.2},"encoding":{"color":{"field":"item","type":"nominal","scale":{"range":["#440154","#c6def0"]},"legend":{"title":null,"rowPadding":-2,"labelOffset":35,"strokeColor":"#262626","fillColor":"white","zindex":1}},"shape":{"field":"item","type":"nominal","scale":{"range":["M-8,0A8,1.8,0,1,0,8,0A8,1.8,0,1,0,-8,0Z","M-1.3,0A1.3,1.3,0,1,0,1.3,0A1.3,1.3,0,1,0,-1.3,0ZM-1,0A1,1,0,1,0,1,0A1,1,0,1,0,-1,0ZM-0.7,0A0.7,0.7,0,1,0,0.7,0A0.7,0.7,0,1,0,-0.7,0ZM-0.4,0A0.4,0.4,0,1,0,0.4,0A0.4,0.4,0,1,0,-0.4,0ZM-0.1,0A0.1,0.1,0,1,0,0.1,0A0.1,0.1,0,1,0,-0.1,0Z"]},"legend":{"title":null,"rowPadding":-2,"labelOffset":35,"strokeColor":"#262626","fillColor":"white","zindex":1}}}},
{"data":{"values":[{"m":"mid"}]},"mark":{"type":"point","opacity":0,"color":"#21918c","strokeWidth":3.2},"encoding":{"shape":{"field":"m","type":"nominal","scale":{"range":["M-5.2,0A5.2,1.2,0,1,0,5.2,0A5.2,1.2,0,1,0,-5.2,0Z"]},"legend":{"title":null,"labelExpr":"''","symbolStrokeColor":"#21918c","zindex":2}}}},
{"data":{"values":[{"n":"in"}]},"mark":{"type":"point","opacity":0,"color":"#fde725","strokeWidth":3.2},"encoding":{"shape":{"field":"n","type":"nominal","scale":{"range":["M-3,0A3,0.45,0,1,0,3,0A3,0.45,0,1,0,-3,0Z"]},"legend":{"title":null,"labelExpr":"''","symbolStrokeColor":"#fde725","zindex":3}}}}
],
"resolve":{"scale":{"y":"independent","color":"independent","shape":"independent"}}},
{"title":{"text":"c)","offset":3},"width":454,"height":361,
"layer":[
{"data":{"name":"nox"},"mark":{"type":"line","strokeWidth":2.8,"clip":true},"encoding":{"x":{"field":"s","type":"quantitative","scale":{"domain":[255,2600],"nice":false,"zero":false},"axis":{"values":[500,1000,1500,2000,2500],"title":"Speed, rpm"}},"y":{"field":"l","type":"quantitative","scale":{"domain":[0,1],"nice":false},"axis":null},"color":{"field":"k","type":"nominal","scale":{"domain":["0.5","0.6","0.8","1","1.4","2","4","6","10"],"range":["#3f2b7c","#433d85","#3a5a8c","#2e708e","#1f968b","#3fbc73","#fde725","#fde725","#fde725"]},"legend":null},"detail":{"field":"g"},"order":{"value":null}}},
{"data":{"name":"noxLab"},"mark":{"type":"text","fontWeight":"bold","fontSize":18,"color":"black"},"encoding":{"x":{"field":"s","type":"quantitative"},"y":{"field":"l","type":"quantitative","scale":{"domain":[0,1],"nice":false},"axis":null},"text":{"field":"txt"},"angle":{"field":"rot","type":"quantitative","scale":null}}},
{"data":{"name":"bndC"},"mark":{"type":"line","color":"black","strokeWidth":4.2,"clip":true},"encoding":{"x":{"field":"s","type":"quantitative"},"y":{"field":"t","type":"quantitative","scale":{"domain":[0,1015],"nice":false},"axis":{"values":[0,200,400,600,800,1000],"title":"Torque, Nm"}},"order":{"value":null}}},
{"data":{"name":"ptsC"},"mark":{"type":"circle","size":150,"fill":"#0072BD","fillOpacity":0.2,"stroke":"#0072BD","strokeOpacity":0.15,"strokeWidth":1},"encoding":{"x":{"field":"s","type":"quantitative"},"y":{"field":"t","type":"quantitative","scale":{"domain":[0,1015],"nice":false},"axis":null}}},
{"data":{"name":"legN"},"mark":{"type":"point","opacity":0,"strokeWidth":3.2},"encoding":{"color":{"field":"item","type":"nominal","scale":{"range":["#440154","#c6def0"]},"legend":{"title":null,"rowPadding":-2,"labelOffset":35,"strokeColor":"#262626","fillColor":"white","zindex":1}},"shape":{"field":"item","type":"nominal","scale":{"range":["M-8,0A8,1.8,0,1,0,8,0A8,1.8,0,1,0,-8,0Z","M-1.3,0A1.3,1.3,0,1,0,1.3,0A1.3,1.3,0,1,0,-1.3,0ZM-1,0A1,1,0,1,0,1,0A1,1,0,1,0,-1,0ZM-0.7,0A0.7,0.7,0,1,0,0.7,0A0.7,0.7,0,1,0,-0.7,0ZM-0.4,0A0.4,0.4,0,1,0,0.4,0A0.4,0.4,0,1,0,-0.4,0ZM-0.1,0A0.1,0.1,0,1,0,0.1,0A0.1,0.1,0,1,0,-0.1,0Z"]},"legend":{"title":null,"rowPadding":-2,"labelOffset":35,"strokeColor":"#262626","fillColor":"white","zindex":1}}}},
{"data":{"values":[{"m":"mid"}]},"mark":{"type":"point","opacity":0,"color":"#21918c","strokeWidth":3.2},"encoding":{"shape":{"field":"m","type":"nominal","scale":{"range":["M-5.2,0A5.2,1.2,0,1,0,5.2,0A5.2,1.2,0,1,0,-5.2,0Z"]},"legend":{"title":null,"labelExpr":"''","symbolStrokeColor":"#21918c","zindex":2}}}},
{"data":{"values":[{"n":"in"}]},"mark":{"type":"point","opacity":0,"color":"#fde725","strokeWidth":3.2},"encoding":{"shape":{"field":"n","type":"nominal","scale":{"range":["M-3,0A3,0.45,0,1,0,3,0A3,0.45,0,1,0,-3,0Z"]},"legend":{"title":null,"labelExpr":"''","symbolStrokeColor":"#fde725","zindex":3}}}}
],
"resolve":{"scale":{"y":"independent","color":"independent","shape":"independent"}}},
{"title":{"text":"d)","offset":7},"width":454,"height":361,
"layer":[
{"data":{"name":"hc"},"mark":{"type":"line","strokeWidth":2.8,"clip":true},"encoding":{"x":{"field":"s","type":"quantitative","scale":{"domain":[255,2600],"nice":false,"zero":false},"axis":{"values":[500,1000,1500,2000,2500],"title":"Speed, rpm"}},"y":{"field":"l","type":"quantitative","scale":{"domain":[0,1],"nice":false},"axis":null},"color":{"field":"k","type":"nominal","scale":{"domain":["0.06","0.08","0.1","0.12","0.16","0.2","0.5","1"],"range":["#45287a","#412f80","#3e3e88","#3b4c8b","#33638d","#277e8e","#fde725","#fde725"]},"legend":null},"detail":{"field":"g"},"order":{"value":null}}},
{"data":{"name":"hcLab"},"mark":{"type":"text","fontWeight":"bold","fontSize":18,"color":"black"},"encoding":{"x":{"field":"s","type":"quantitative"},"y":{"field":"l","type":"quantitative","scale":{"domain":[0,1],"nice":false},"axis":null},"text":{"field":"txt"},"angle":{"field":"rot","type":"quantitative","scale":null}}},
{"data":{"name":"bndA"},"mark":{"type":"line","color":"black","strokeWidth":4.2,"clip":true},"encoding":{"x":{"field":"s","type":"quantitative"},"y":{"field":"t","type":"quantitative","scale":{"domain":[0,1196],"nice":false},"axis":{"values":[0,200,400,600,800,1000],"title":"Torque, Nm"}},"order":{"value":null}}},
{"data":{"name":"ptsA"},"mark":{"type":"circle","size":150,"fill":"#0072BD","fillOpacity":0.2,"stroke":"#0072BD","strokeOpacity":0.15,"strokeWidth":1},"encoding":{"x":{"field":"s","type":"quantitative"},"y":{"field":"t","type":"quantitative","scale":{"domain":[0,1196],"nice":false},"axis":null}}},
{"data":{"name":"legH"},"mark":{"type":"point","opacity":0,"strokeWidth":3.2},"encoding":{"color":{"field":"item","type":"nominal","scale":{"range":["#440154","#c6def0"]},"legend":{"title":null,"rowPadding":-2,"labelOffset":35,"strokeColor":"#262626","fillColor":"white","zindex":1}},"shape":{"field":"item","type":"nominal","scale":{"range":["M-8,0A8,1.8,0,1,0,8,0A8,1.8,0,1,0,-8,0Z","M-1.3,0A1.3,1.3,0,1,0,1.3,0A1.3,1.3,0,1,0,-1.3,0ZM-1,0A1,1,0,1,0,1,0A1,1,0,1,0,-1,0ZM-0.7,0A0.7,0.7,0,1,0,0.7,0A0.7,0.7,0,1,0,-0.7,0ZM-0.4,0A0.4,0.4,0,1,0,0.4,0A0.4,0.4,0,1,0,-0.4,0ZM-0.1,0A0.1,0.1,0,1,0,0.1,0A0.1,0.1,0,1,0,-0.1,0Z"]},"legend":{"title":null,"rowPadding":-2,"labelOffset":35,"strokeColor":"#262626","fillColor":"white","zindex":1}}}},
{"data":{"values":[{"m":"mid"}]},"mark":{"type":"point","opacity":0,"color":"#21918c","strokeWidth":3.2},"encoding":{"shape":{"field":"m","type":"nominal","scale":{"range":["M-5.2,0A5.2,1.2,0,1,0,5.2,0A5.2,1.2,0,1,0,-5.2,0Z"]},"legend":{"title":null,"labelExpr":"''","symbolStrokeColor":"#21918c","zindex":2}}}},
{"data":{"values":[{"n":"in"}]},"mark":{"type":"point","opacity":0,"color":"#fde725","strokeWidth":3.2},"encoding":{"shape":{"field":"n","type":"nominal","scale":{"range":["M-3,0A3,0.45,0,1,0,3,0A3,0.45,0,1,0,-3,0Z"]},"legend":{"title":null,"labelExpr":"''","symbolStrokeColor":"#fde725","zindex":3}}}}
],
"resolve":{"scale":{"y":"independent","color":"independent","shape":"independent"}}},
{"title":{"text":"e)","offset":2},"width":454,"height":361,
"layer":[
{"data":{"name":"hc"},"mark":{"type":"line","strokeWidth":2.8,"clip":true},"encoding":{"x":{"field":"s","type":"quantitative","scale":{"domain":[255,2600],"nice":false,"zero":false},"axis":{"values":[500,1000,1500,2000,2500],"title":"Speed, rpm"}},"y":{"field":"l","type":"quantitative","scale":{"domain":[0,1],"nice":false},"axis":null},"color":{"field":"k","type":"nominal","scale":{"domain":["0.06","0.08","0.1","0.12","0.16","0.2","0.5","1"],"range":["#45287a","#412f80","#3e3e88","#3b4c8b","#33638d","#277e8e","#fde725","#fde725"]},"legend":null},"detail":{"field":"g"},"order":{"value":null}}},
{"data":{"name":"hcLab"},"mark":{"type":"text","fontWeight":"bold","fontSize":18,"color":"black"},"encoding":{"x":{"field":"s","type":"quantitative"},"y":{"field":"l","type":"quantitative","scale":{"domain":[0,1],"nice":false},"axis":null},"text":{"field":"txt"},"angle":{"field":"rot","type":"quantitative","scale":null}}},
{"data":{"name":"bndB"},"mark":{"type":"line","color":"black","strokeWidth":4.2,"clip":true},"encoding":{"x":{"field":"s","type":"quantitative"},"y":{"field":"t","type":"quantitative","scale":{"domain":[0,812],"nice":false},"axis":{"values":[0,200,400,600,800],"title":"Torque, Nm"}},"order":{"value":null}}},
{"data":{"name":"ptsB"},"mark":{"type":"circle","size":150,"fill":"#0072BD","fillOpacity":0.2,"stroke":"#0072BD","strokeOpacity":0.15,"strokeWidth":1},"encoding":{"x":{"field":"s","type":"quantitative"},"y":{"field":"t","type":"quantitative","scale":{"domain":[0,812],"nice":false},"axis":null}}},
{"data":{"name":"legH"},"mark":{"type":"point","opacity":0,"strokeWidth":3.2},"encoding":{"color":{"field":"item","type":"nominal","scale":{"range":["#440154","#c6def0"]},"legend":{"title":null,"rowPadding":-2,"labelOffset":35,"strokeColor":"#262626","fillColor":"white","zindex":1}},"shape":{"field":"item","type":"nominal","scale":{"range":["M-8,0A8,1.8,0,1,0,8,0A8,1.8,0,1,0,-8,0Z","M-1.3,0A1.3,1.3,0,1,0,1.3,0A1.3,1.3,0,1,0,-1.3,0ZM-1,0A1,1,0,1,0,1,0A1,1,0,1,0,-1,0ZM-0.7,0A0.7,0.7,0,1,0,0.7,0A0.7,0.7,0,1,0,-0.7,0ZM-0.4,0A0.4,0.4,0,1,0,0.4,0A0.4,0.4,0,1,0,-0.4,0ZM-0.1,0A0.1,0.1,0,1,0,0.1,0A0.1,0.1,0,1,0,-0.1,0Z"]},"legend":{"title":null,"rowPadding":-2,"labelOffset":35,"strokeColor":"#262626","fillColor":"white","zindex":1}}}},
{"data":{"values":[{"m":"mid"}]},"mark":{"type":"point","opacity":0,"color":"#21918c","strokeWidth":3.2},"encoding":{"shape":{"field":"m","type":"nominal","scale":{"range":["M-5.2,0A5.2,1.2,0,1,0,5.2,0A5.2,1.2,0,1,0,-5.2,0Z"]},"legend":{"title":null,"labelExpr":"''","symbolStrokeColor":"#21918c","zindex":2}}}},
{"data":{"values":[{"n":"in"}]},"mark":{"type":"point","opacity":0,"color":"#fde725","strokeWidth":3.2},"encoding":{"shape":{"field":"n","type":"nominal","scale":{"range":["M-3,0A3,0.45,0,1,0,3,0A3,0.45,0,1,0,-3,0Z"]},"legend":{"title":null,"labelExpr":"''","symbolStrokeColor":"#fde725","zindex":3}}}}
],
"resolve":{"scale":{"y":"independent","color":"independent","shape":"independent"}}},
{"title":{"text":"f)","offset":3},"width":454,"height":361,
"layer":[
{"data":{"name":"hc"},"mark":{"type":"line","strokeWidth":2.8,"clip":true},"encoding":{"x":{"field":"s","type":"quantitative","scale":{"domain":[255,2600],"nice":false,"zero":false},"axis":{"values":[500,1000,1500,2000,2500],"title":"Speed, rpm"}},"y":{"field":"l","type":"quantitative","scale":{"domain":[0,1],"nice":false},"axis":null},"color":{"field":"k","type":"nominal","scale":{"domain":["0.06","0.08","0.1","0.12","0.16","0.2","0.5","1"],"range":["#45287a","#412f80","#3e3e88","#3b4c8b","#33638d","#277e8e","#fde725","#fde725"]},"legend":null},"detail":{"field":"g"},"order":{"value":null}}},
{"data":{"name":"hcLab"},"mark":{"type":"text","fontWeight":"bold","fontSize":18,"color":"black"},"encoding":{"x":{"field":"s","type":"quantitative"},"y":{"field":"l","type":"quantitative","scale":{"domain":[0,1],"nice":false},"axis":null},"text":{"field":"txt"},"angle":{"field":"rot","type":"quantitative","scale":null}}},
{"data":{"name":"bndC"},"mark":{"type":"line","color":"black","strokeWidth":4.2,"clip":true},"encoding":{"x":{"field":"s","type":"quantitative"},"y":{"field":"t","type":"quantitative","scale":{"domain":[0,1015],"nice":false},"axis":{"values":[0,200,400,600,800,1000],"title":"Torque, Nm"}},"order":{"value":null}}},
{"data":{"name":"ptsC"},"mark":{"type":"circle","size":150,"fill":"#0072BD","fillOpacity":0.2,"stroke":"#0072BD","strokeOpacity":0.15,"strokeWidth":1},"encoding":{"x":{"field":"s","type":"quantitative"},"y":{"field":"t","type":"quantitative","scale":{"domain":[0,1015],"nice":false},"axis":null}}},
{"data":{"name":"legH"},"mark":{"type":"point","opacity":0,"strokeWidth":3.2},"encoding":{"color":{"field":"item","type":"nominal","scale":{"range":["#440154","#c6def0"]},"legend":{"title":null,"rowPadding":-2,"labelOffset":35,"strokeColor":"#262626","fillColor":"white","zindex":1}},"shape":{"field":"item","type":"nominal","scale":{"range":["M-8,0A8,1.8,0,1,0,8,0A8,1.8,0,1,0,-8,0Z","M-1.3,0A1.3,1.3,0,1,0,1.3,0A1.3,1.3,0,1,0,-1.3,0ZM-1,0A1,1,0,1,0,1,0A1,1,0,1,0,-1,0ZM-0.7,0A0.7,0.7,0,1,0,0.7,0A0.7,0.7,0,1,0,-0.7,0ZM-0.4,0A0.4,0.4,0,1,0,0.4,0A0.4,0.4,0,1,0,-0.4,0ZM-0.1,0A0.1,0.1,0,1,0,0.1,0A0.1,0.1,0,1,0,-0.1,0Z"]},"legend":{"title":null,"rowPadding":-2,"labelOffset":35,"strokeColor":"#262626","fillColor":"white","zindex":1}}}},
{"data":{"values":[{"m":"mid"}]},"mark":{"type":"point","opacity":0,"color":"#21918c","strokeWidth":3.2},"encoding":{"shape":{"field":"m","type":"nominal","scale":{"range":["M-5.2,0A5.2,1.2,0,1,0,5.2,0A5.2,1.2,0,1,0,-5.2,0Z"]},"legend":{"title":null,"labelExpr":"''","symbolStrokeColor":"#21918c","zindex":2}}}},
{"data":{"values":[{"n":"in"}]},"mark":{"type":"point","opacity":0,"color":"#fde725","strokeWidth":3.2},"encoding":{"shape":{"field":"n","type":"nominal","scale":{"range":["M-3,0A3,0.45,0,1,0,3,0A3,0.45,0,1,0,-3,0Z"]},"legend":{"title":null,"labelExpr":"''","symbolStrokeColor":"#fde725","zindex":3}}}}
],
"resolve":{"scale":{"y":"independent","color":"independent","shape":"independent"}}}
]
}
